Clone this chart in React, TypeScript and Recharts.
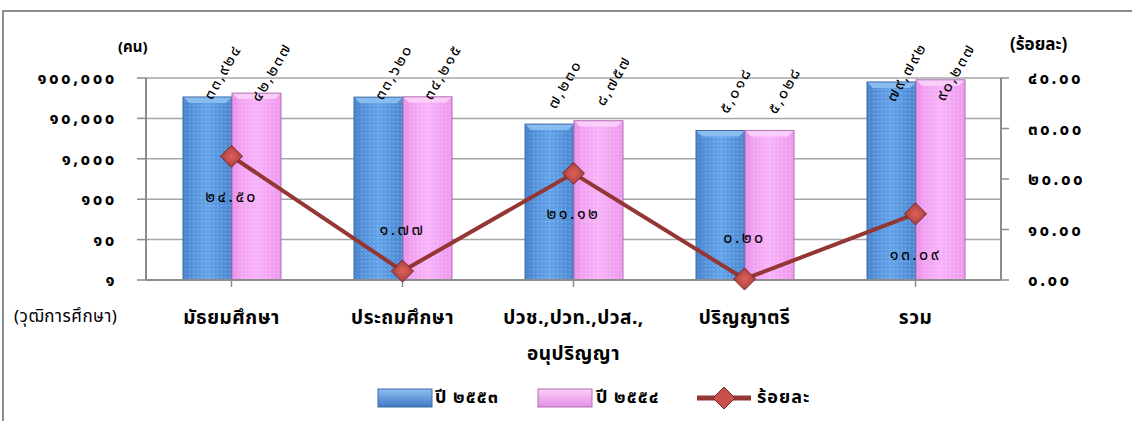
import React from 'react';
import {
  ComposedChart, Bar, Line, XAxis, YAxis, CartesianGrid, LabelList,
} from 'recharts';

const categories = ['มัธยมศึกษา', 'ประถมศึกษา', 'ปวช.,ปวท.,ปวส.,\nอนุปริญญา', 'ปริญญาตรี', 'รวม'];
const values2553 = [33924, 33620, 7230, 5018, 79792];
const values2554 = [42237, 34215, 8757, 5028, 90237];
const percentChange = [24.5, 1.77, 21.12, 0.2, 13.09];
const leftTicks = [1, 10, 100, 1000, 10000, 100000];
const rightTicks = [0, 10, 20, 30, 40];
const seriesNames = ['ปี ๒๕๕๓', 'ปี ๒๕๕๔', 'ร้อยละ'];
const leftUnit = '(คน)';
const rightUnit = '(ร้อยละ)';
const categoryTitle = '(วุฒิการศึกษา)';

const data = categories.map((c, i) => ({
  name: c,
  a: values2553[i],
  b: values2554[i],
  p: percentChange[i],
}));

const THAI = '๐๑๒๓๔๕๖๗๘๙';
const toThai = (s: string) => s.replace(/[0-9]/g, (d) => THAI[Number(d)]);
const fmtInt = (v: number) => toThai(Number(v).toLocaleString('en-US'));
const fmtPct = (v: number) => toThai(Number(v).toFixed(2));

const FONT = "Tahoma, 'Noto Sans Thai', 'Noto Sans', 'DejaVu Sans', sans-serif";
const GRID = '#a6a6a6';
const AXIS = '#8c8c8c';
const LINE = '#943634';

const makeBar = (kind: 'blue' | 'pink') => (props: any) => {
  const { x, y, width, height } = props;
  if (!height || height <= 0) return null;
  const b = 6;
  const stroke = kind === 'blue' ? '#3d6aa6' : '#b070b0';
  const topFill = kind === 'blue' ? '#8ec0f2' : '#fbd0fb';
  const sideFill = kind === 'blue' ? '#4a84cc' : '#e590e5';
  return (
    <g>
      <rect x={x} y={y} width={width} height={height} fill={`url(#grad-${kind})`} />
      <rect x={x} y={y} width={width} height={height} fill="url(#dots)" />
      <polygon points={`${x},${y} ${x + width},${y} ${x + width - b},${y + b} ${x + b},${y + b}`} fill={topFill} opacity={0.9} />
      <polygon points={`${x},${y} ${x + b},${y + b} ${x + b},${y + height} ${x},${y + height}`} fill={sideFill} opacity={0.35} />
      <rect x={x} y={y} width={width} height={height} fill="none" stroke={stroke} strokeWidth={1} />
    </g>
  );
};

const getBox = (props: any) => {
  const vb = props.viewBox || {};
  const x = Number(vb.x ?? props.x);
  const y = Number(vb.y ?? props.y);
  const width = Number(vb.width ?? props.width ?? 0);
  return { x, y, width };
};

const BarValueLabel = (props: any) => {
  const { x, y, width } = getBox(props);
  const cx = x + width / 2 + 15;
  const cy = Math.max(72, y - 40);
  return (
    <g style={{ transform: `translate(${cx}px, ${cy}px) rotate(-60deg)` }}>
      <text
        x={0}
        y={0}
        textAnchor="middle"
        dominantBaseline="central"
        fontSize={16}
        letterSpacing={2}
        fontFamily={FONT}
        fill="#000"
      >
        {fmtInt(props.value)}
      </text>
    </g>
  );
};

const PctLabel = (props: any) => {
  const { x, y } = getBox(props);
  const value = Number(props.value);
  const dy = value < 5 ? -41 : 41;
  return (
    <text x={x} y={y + dy} textAnchor="middle" dominantBaseline="central" fontSize={16} letterSpacing={2.5} fontFamily={FONT} fill="#000">
      {fmtPct(value)}
    </text>
  );
};

const Diamond = (props: any) => {
  const { cx, cy } = props;
  const r = 11;
  return (
    <polygon points={`${cx},${cy - r} ${cx + r},${cy} ${cx},${cy + r} ${cx - r},${cy}`} fill="url(#grad-dia)" stroke="#7a2624" strokeWidth={1} />
  );
};

const CatTick = (props: any) => {
  const { x, y, payload } = props;
  const lines = String(payload.value).split('\n');
  return (
    <g>
      {lines.map((l, i) => (
        <text key={i} x={x} y={y + 11 + i * 36} textAnchor="middle" dominantBaseline="central" fontSize={19} fontWeight="bold" letterSpacing={0.5} fontFamily={FONT} fill="#000">
          {l}
        </text>
      ))}
    </g>
  );
};

const LegendSwatch = ({ kind }: { kind: 'blue' | 'pink' }) => (
  <svg width={56} height={20} style={{ display: 'block' }}>
    <defs>
      <linearGradient id={`lg-${kind}`} x1="0" y1="0" x2="0" y2="1">
        <stop offset="0" stopColor={kind === 'blue' ? '#8ec0f2' : '#fbd0fb'} />
        <stop offset="1" stopColor={kind === 'blue' ? '#3f79c4' : '#e48ee4'} />
      </linearGradient>
    </defs>
    <rect x={1} y={1} width={54} height={18} fill={`url(#lg-${kind})`} stroke={kind === 'blue' ? '#3d6aa6' : '#b070b0'} />
  </svg>
);

const tickStyle = { fontSize: 17, fill: '#000', fontFamily: FONT, fontWeight: 'bold', letterSpacing: 2.5 };
const legendText = { position: 'absolute' as const, top: 0, fontSize: 18, fontWeight: 'bold' as const, lineHeight: '20px', letterSpacing: 1 };

const App = () => {
  return (
    <div style={{ position: 'absolute', left: 0, top: 0, width: 1132, height: 421, background: '#fff', fontFamily: FONT }}>
      <div style={{ position: 'absolute', left: 2, top: 10, width: 1130, height: 0, borderTop: `2px solid ${AXIS}` }} />
      <div style={{ position: 'absolute', left: 2, top: 10, width: 0, height: 411, borderLeft: `2px solid ${AXIS}` }} />
      <div style={{ position: 'absolute', left: 0, top: 0 }}>
        <ComposedChart width={1132} height={421} data={data} margin={{ top: 78, right: 31, bottom: 81, left: 46 }} barGap={0}>
          <defs>
            <linearGradient id="grad-blue" x1="0" y1="0" x2="1" y2="0">
              <stop offset="0" stopColor="#4a86d0" />
              <stop offset="0.5" stopColor="#64a4ea" />
              <stop offset="1" stopColor="#4a86d0" />
            </linearGradient>
            <linearGradient id="grad-pink" x1="0" y1="0" x2="1" y2="0">
              <stop offset="0" stopColor="#ee98ee" />
              <stop offset="0.5" stopColor="#f8b4f8" />
              <stop offset="1" stopColor="#ee98ee" />
            </linearGradient>
            <radialGradient id="grad-dia" cx="0.5" cy="0.5" r="0.5">
              <stop offset="0" stopColor="#e0605c" />
              <stop offset="1" stopColor="#a8403c" />
            </radialGradient>
            <pattern id="dots" width="4" height="4" patternUnits="userSpaceOnUse">
              <rect x={1} y={1} width={1.2} height={1.2} fill="#ffffff" opacity={0.35} />
            </pattern>
          </defs>
          <CartesianGrid yAxisId="left" vertical={false} stroke={GRID} strokeWidth={1.5} />
          <XAxis
            dataKey="name"
            height={60}
            tick={<CatTick />}
            tickSize={7}
            tickMargin={20}
            axisLine={{ stroke: AXIS, strokeWidth: 2 }}
            tickLine={{ stroke: AXIS, strokeWidth: 1.5 }}
            interval={0}
          />
          <YAxis
            yAxisId="left"
            orientation="left"
            width={100}
            scale="log"
            domain={[1, 100000]}
            ticks={leftTicks}
            allowDataOverflow
            tickFormatter={fmtInt}
            tickSize={9}
            tickMargin={20}
            axisLine={{ stroke: AXIS, strokeWidth: 2 }}
            tickLine={{ stroke: AXIS, strokeWidth: 1.5 }}
            tick={tickStyle}
          />
          <YAxis
            yAxisId="right"
            orientation="right"
            width={100}
            domain={[0, 40]}
            ticks={rightTicks}
            tickFormatter={fmtPct}
            tickSize={8}
            tickMargin={19}
            axisLine={{ stroke: AXIS, strokeWidth: 2 }}
            tickLine={{ stroke: AXIS, strokeWidth: 1.5 }}
            tick={{ ...tickStyle, textAnchor: 'start' }}
          />
          <Bar yAxisId="left" dataKey="a" name={seriesNames[0]} barSize={49} shape={makeBar('blue')} isAnimationActive={false}>
            <LabelList dataKey="a" content={(p: any) => <BarValueLabel {...p} />} />
          </Bar>
          <Bar yAxisId="left" dataKey="b" name={seriesNames[1]} barSize={49} shape={makeBar('pink')} isAnimationActive={false}>
            <LabelList dataKey="b" content={(p: any) => <BarValueLabel {...p} />} />
          </Bar>
          <Line
            yAxisId="right"
            dataKey="p"
            name={seriesNames[2]}
            stroke={LINE}
            strokeWidth={4}
            dot={(p: any) => <Diamond key={`dot-${p.index}`} {...p} />}
            activeDot={false}
            isAnimationActive={false}
          >
            <LabelList dataKey="p" content={(p: any) => <PctLabel {...p} />} />
          </Line>
        </ComposedChart>
      </div>
      <div style={{ position: 'absolute', left: 118, top: 38, fontSize: 15, fontWeight: 'bold', lineHeight: '20px' }}>{leftUnit}</div>
      <div style={{ position: 'absolute', left: 1010, top: 34, fontSize: 17, fontWeight: 'bold', lineHeight: '22px' }}>{rightUnit}</div>
      <div style={{ position: 'absolute', left: 14, top: 306, fontSize: 17, lineHeight: '22px', letterSpacing: 0.5 }}>{categoryTitle}</div>
      <div style={{ position: 'absolute', left: 0, top: 388, width: 1132, height: 22 }}>
        <div style={{ position: 'absolute', left: 377, top: 0 }}><LegendSwatch kind="blue" /></div>
        <div style={{ ...legendText, left: 435 }}>{seriesNames[0]}</div>
        <div style={{ position: 'absolute', left: 537, top: 0 }}><LegendSwatch kind="pink" /></div>
        <div style={{ ...legendText, left: 596 }}>{seriesNames[1]}</div>
        <svg width={56} height={24} style={{ position: 'absolute', left: 697, top: -2 }}>
          <line x1={0} y1={12} x2={54} y2={12} stroke={LINE} strokeWidth={5} />
          <polygon points="27,1 38,12 27,23 16,12" fill="#c8504c" stroke="#7a2624" />
        </svg>
        <div style={{ ...legendText, left: 757 }}>{seriesNames[2]}</div>
      </div>
    </div>
  );
};

export default App;
